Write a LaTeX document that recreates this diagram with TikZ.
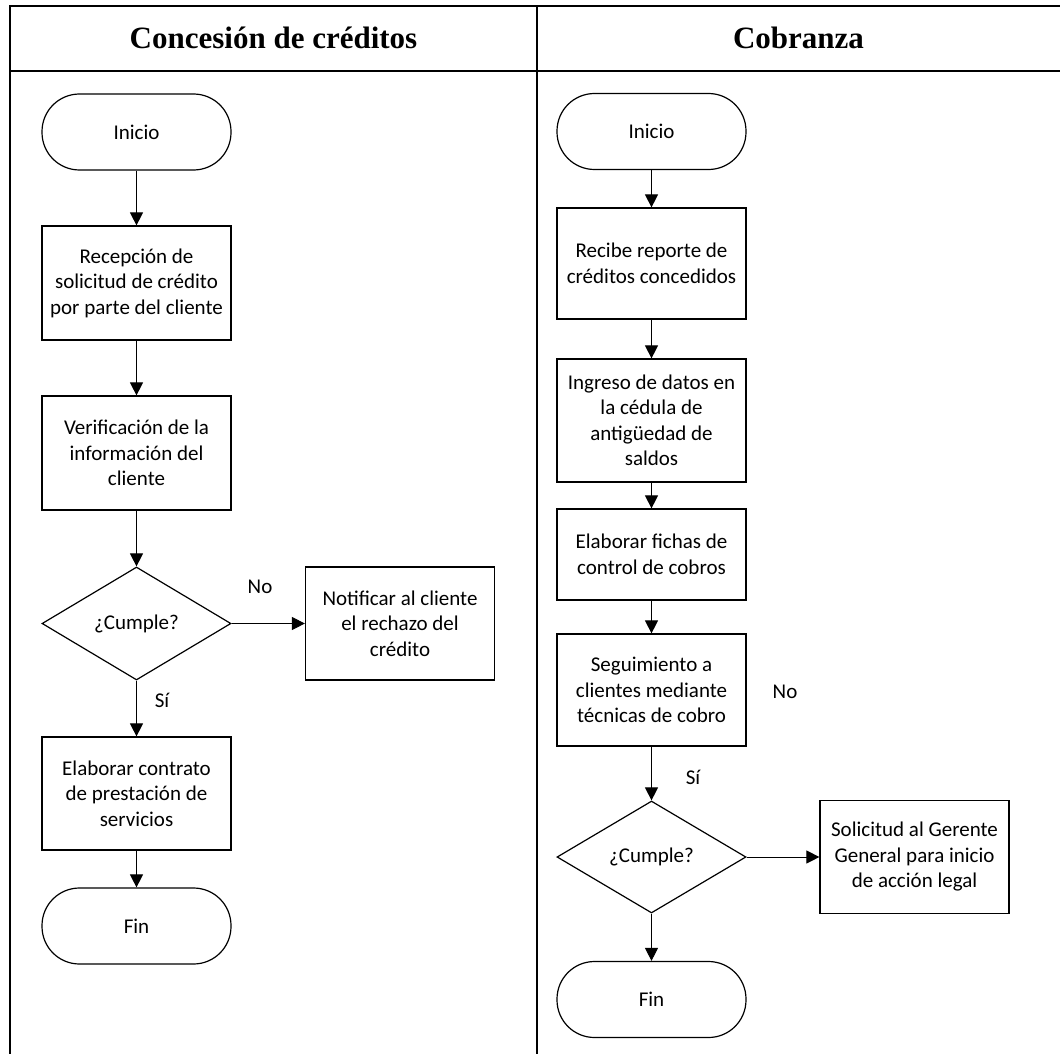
\documentclass[tikz,border=0pt]{standalone}
\usepackage{fontspec}
\setmainfont{Carlito}
\newfontfamily\headfont{Liberation Serif}
\usetikzlibrary{shapes.geometric,arrows.meta}
\begin{document}
\begin{tikzpicture}[x=1pt,y=1pt,
  lane/.style={line width=2pt},
  proc/.style={draw, line width=1.2pt, minimum width=189pt, align=center, inner sep=2pt, font=\fontsize{21}{25.5}\selectfont},
  term/.style={proc, rounded corners=37.5pt, minimum height=76pt},
  dec/.style={draw, diamond, line width=1.2pt, minimum width=189pt, minimum height=113pt, inner sep=0pt, font=\fontsize{21}{25.5}\selectfont},
  lbl/.style={font=\fontsize{21}{25.5}\selectfont},
  arr/.style={line width=1pt, -{Triangle[length=13pt,width=13pt]}},
  head/.style={font=\headfont\bfseries\fontsize{31}{36}\selectfont}]
\useasboundingbox (0,0) rectangle (1060,-1054);
% frame
\draw[lane] (1060,-5.7) -- (10,-5.7) -- (10,-1054);
\draw[lane] (10,-70.7) -- (1060,-70.7);
\draw[lane] (537,-5.7) -- (537,-1054);
% headers
\node[head] (h1) at (273.5,-38) {Concesión de créditos};
\node[head] (h2) at (798.5,-38) {Cobranza};
% left lane
\node[term] (l0) at (136.5,-132) {Inicio};
\node[proc, minimum height=114pt] (l1) at (136.5,-283) {Recepción de\\solicitud de crédito\\por parte del cliente};
\node[proc, minimum height=114pt] (l2) at (136.5,-453) {Verificación de la\\información del\\cliente};
\node[dec] (l3) at (136.5,-623.5) {¿Cumple?};
\node[proc, minimum height=113pt] (l3n) at (400,-623.5) {Notificar al cliente\\el rechazo del\\crédito};
\node[proc, minimum height=113pt] (l4) at (136.5,-793.5) {Elaborar contrato\\de prestación de\\servicios};
\node[term] (l5) at (136.5,-926) {Fin};
\node[lbl] (lno) at (260,-587) {No};
\node[lbl] (lsi) at (162,-700) {Sí};
\draw[arr] (l0) -- (l1);
\draw[arr] (l1) -- (l2);
\draw[arr] (l2) -- (l3);
\draw[arr] (l3.east) -- (l3n.west);
\draw[arr] (l3) -- (l4);
\draw[arr] (l4) -- (l5);
% right lane
\node[term] (r0) at (651.5,-131.5) {Inicio};
\node[proc, minimum height=111pt] (r1) at (651.5,-263.5) {Recibe reporte de\\créditos concedidos};
\node[proc, minimum height=123pt] (r2) at (651.5,-420.5) {Ingreso de datos en\\la cédula de\\antigüedad de\\saldos};
\node[proc, minimum height=91pt] (r3) at (651.5,-554.5) {Elaborar fichas de\\control de cobros};
\node[proc, minimum height=112pt] (r4) at (651.5,-690) {Seguimiento a\\clientes mediante\\técnicas de cobro};
\node[dec, minimum height=112pt] (r5) at (651.5,-857) {¿Cumple?};
\node[proc, minimum height=113pt] (r5n) at (914.5,-857) {Solicitud al Gerente\\General para inicio\\de acción legal};
\node[term] (r6) at (651.5,-999.5) {Fin};
\node[lbl] (rno) at (785,-692) {No};
\node[lbl] (rsi) at (693,-777) {Sí};
\draw[arr] (r0) -- (r1);
\draw[arr] (r1) -- (r2);
\draw[arr] (r2) -- (r3);
\draw[arr] (r3) -- (r4);
\draw[arr] (r4) -- (r5);
\draw[arr] (r5.east) -- (r5n.west);
\draw[arr] (r5) -- (r6);
\end{tikzpicture}
\end{document}
